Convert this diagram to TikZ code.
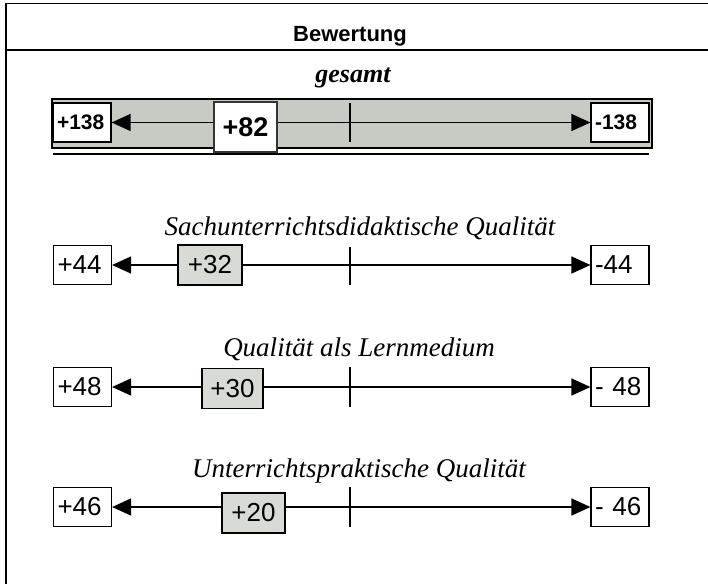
\documentclass[tikz,border=0pt]{standalone}
\usepackage{fontspec}
\setmainfont{Liberation Serif}
\setsansfont{Liberation Sans}
\usetikzlibrary{arrows.meta}
\definecolor{bandgray}{RGB}{200,202,196}
\definecolor{valgray}{RGB}{216,219,213}

\begin{document}
\begin{tikzpicture}[x=1pt,y=-1pt,
	endbox/.style={draw,line width=1.2pt,fill=white,text width=50pt,align=left,inner xsep=4pt,inner ysep=0pt,minimum height=39pt,font=\sffamily\fontsize{26}{26}\selectfont},
	valbox/.style={draw,line width=1.2pt,fill=valgray,inner sep=0pt,minimum width=63pt,minimum height=40pt,font=\sffamily\fontsize{26}{26}\selectfont},
	heading/.style={anchor=base,font=\itshape\fontsize{27}{27}\selectfont},
	scalearrow/.style={line width=1.4pt,{Triangle[length=19pt,width=17pt]}-{Triangle[length=19pt,width=17pt]}}]
	\useasboundingbox (0,0) rectangle (708,584);
	
	% frame
	\draw[line width=1.8pt] (708,3.5) -- (6,3.5) -- (6,584);
	\draw[line width=1.8pt] (6,50) -- (708,50);
	\node[anchor=base,font=\sffamily\bfseries\fontsize{22}{22}\selectfont] (titel)
	at (350,41) {Bewertung};
	
	% gesamt
	\node[anchor=base,font=\bfseries\itshape\fontsize{26}{26}\selectfont] (gesamt)
	at (353,82) {gesamt};
	\draw[line width=2.2pt,fill=bandgray] (52,99) rectangle (652,148);
	\draw[line width=1.6pt] (53,154) -- (649,154);
	\node[endbox,font=\sffamily\bfseries\fontsize{21}{21}\selectfont] (links1)
	at (82,122.5) {+138};
	\node[endbox,font=\sffamily\bfseries\fontsize{21}{21}\selectfont] (rechts1)
	at (620,122.5) {-138};
	\path[scalearrow] (links1) edge (rechts1);
	\draw[line width=1.3pt] (350,103) -- (350,142);
	\node[valbox,fill=white,draw=black!80,minimum height=50pt,font=\sffamily\bfseries\fontsize{27}{27}\selectfont] (wert1)
	at (245.5,127) {+82};
	
	% Sachunterrichtsdidaktische Qualitaet
	\node[heading] (kopf2) at (360,235) {Sachunterrichtsdidaktische Qualität};
	\node[endbox] (links2) at (82.5,265) {+44};
	\node[endbox] (rechts2) at (620,265) {-44};
	\path[scalearrow] (links2) edge (rechts2);
	\draw[line width=1.3pt] (350,247) -- (350,285);
	\node[valbox,minimum width=64pt] (wert2) at (210,265) {+32};
	
	% Qualitaet als Lernmedium
	\node[heading] (kopf3) at (359,356) {Qualität als Lernmedium};
	\node[endbox] (links3) at (82.5,387) {+48};
	\node[endbox] (rechts3) at (620,387) {- 48};
	\path[scalearrow] (links3) edge (rechts3);
	\draw[line width=1.3pt] (350,367) -- (350,407);
	\node[valbox,minimum width=61pt] (wert3) at (232.5,388.5) {+30};
	
	% Unterrichtspraktische Qualitaet
	\node[heading] (kopf4) at (359,477) {Unterrichtspraktische Qualität};
	\node[endbox] (links4) at (82.5,507) {+46};
	\node[endbox] (rechts4) at (620,507) {- 46};
	\path[scalearrow] (links4) edge (rechts4);
	\draw[line width=1.3pt] (350,487) -- (350,527);
	\node[valbox] (wert4) at (253.5,513) {+20};
\end{tikzpicture}
\end{document}
